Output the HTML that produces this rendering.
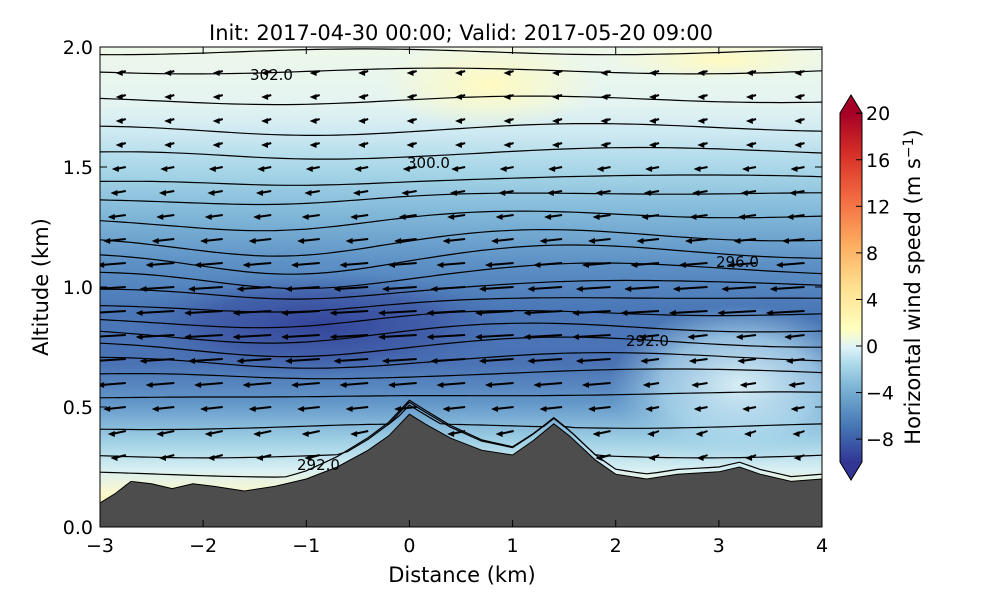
<!DOCTYPE html>
<html><head><meta charset="utf-8"><style>
body{margin:0;background:#fff}
svg text{font-family:"DejaVu Sans","Liberation Sans",sans-serif}
</style></head><body>
<svg id="s" width="1000" height="600" xmlns="http://www.w3.org/2000/svg">
<defs>
<linearGradient id="bg" x1="0" y1="0" x2="0" y2="1">
<stop offset="0" stop-color="#eef8ea"/>
<stop offset="0.12" stop-color="#e4f4f2"/>
<stop offset="0.18" stop-color="#cde9f2"/>
<stop offset="0.26" stop-color="#a6d5e7"/>
<stop offset="0.35" stop-color="#80b7d8"/>
<stop offset="0.45" stop-color="#5d91c5"/>
<stop offset="0.55" stop-color="#4a77b7"/>
<stop offset="0.66" stop-color="#4a72b4"/>
<stop offset="0.74" stop-color="#6296c8"/>
<stop offset="0.82" stop-color="#9fd0e5"/>
<stop offset="0.88" stop-color="#d8eff3"/>
<stop offset="0.93" stop-color="#fbf8cc"/>
<stop offset="1" stop-color="#fee9a0"/>
</linearGradient>
<radialGradient id="blob" cx="0.5" cy="0.5" r="0.5">
<stop offset="0" stop-color="#34449a" stop-opacity="1"/>
<stop offset="0.6" stop-color="#3e57a4" stop-opacity="0.7"/>
<stop offset="1" stop-color="#4a72b4" stop-opacity="0"/>
</radialGradient>
<radialGradient id="light" cx="0.5" cy="0.5" r="0.5">
<stop offset="0" stop-color="#d8eef5" stop-opacity="1"/>
<stop offset="0.6" stop-color="#b5def0" stop-opacity="0.7"/>
<stop offset="1" stop-color="#9dcfe4" stop-opacity="0"/>
</radialGradient>
<radialGradient id="yel" cx="0.5" cy="0.5" r="0.5">
<stop offset="0" stop-color="#fffac0" stop-opacity="1"/>
<stop offset="1" stop-color="#fffac0" stop-opacity="0"/>
</radialGradient>
<linearGradient id="cb" x1="0" y1="1" x2="0" y2="0">
<stop offset="0" stop-color="#313695"/>
<stop offset="0.1" stop-color="#4575b4"/>
<stop offset="0.2" stop-color="#74add1"/>
<stop offset="0.28" stop-color="#abd9e9"/>
<stop offset="0.33" stop-color="#e0f3f8"/>
<stop offset="0.38" stop-color="#ffffbf"/>
<stop offset="0.5" stop-color="#fee090"/>
<stop offset="0.62" stop-color="#fdae61"/>
<stop offset="0.75" stop-color="#f46d43"/>
<stop offset="0.88" stop-color="#d73027"/>
<stop offset="1" stop-color="#a50026"/>
</linearGradient>
<clipPath id="pc"><rect x="100" y="47" width="722" height="480"/></clipPath>
</defs>
<g clip-path="url(#pc)" id="plot">
<rect x="100" y="47" width="722" height="480" fill="url(#bg)"/>
<ellipse cx="320" cy="325" rx="200" ry="55" fill="url(#blob)"/>
<ellipse cx="740" cy="385" rx="130" ry="80" fill="url(#light)"/>
<ellipse cx="490" cy="85" rx="110" ry="45" fill="url(#yel)"/>
<ellipse cx="720" cy="60" rx="110" ry="20" fill="url(#yel)"/>
</g>
<text x="461" y="40" font-size="21" text-anchor="middle">Init: 2017-04-30 00:00; Valid: 2017-05-20 09:00</text>
<text x="462" y="582" font-size="21" text-anchor="middle">Distance (km)</text>
<text transform="translate(48,287) rotate(-90)" font-size="21" text-anchor="middle">Altitude (km)</text>
<rect x="840" y="113" width="22" height="349" fill="url(#cb)"/>
<polygon points="840,113 851,95 862,113" fill="#a50026"/>
<polygon points="840,462 851,480 862,462" fill="#313695"/>
<polygon points="840,113 851,95 862,113 862,462 851,480 840,462" fill="none" stroke="#000" stroke-width="1"/>
<text transform="translate(920,287) rotate(-90)" font-size="21" text-anchor="middle">Horizontal wind speed (m s<tspan dy="-7" font-size="14">−1</tspan><tspan dy="7">)</tspan></text>
</svg>
<script>
const s=document.getElementById('s'),P=document.getElementById('plot'),NS='http://www.w3.org/2000/svg';
function el(p,t,a,txt){const e=document.createElementNS(NS,t);for(const k in a)e.setAttribute(k,a[k]);if(txt!==undefined)e.textContent=txt;p.appendChild(e);return e;}
const X=k=>100+(k+3)*103.143,Y=a=>527-a*240;
const tp=[[-3,.1],[-2.85,.14],[-2.7,.19],[-2.5,.18],[-2.3,.16],[-2.1,.18],[-1.9,.17],[-1.6,.15],[-1.3,.17],[-1,.2],[-.7,.25],[-.4,.32],[-.2,.38],[0,.47],[.15,.43],[.4,.37],[.7,.32],[1,.3],[1.2,.36],[1.4,.43],[1.55,.38],[1.8,.28],[2,.22],[2.3,.2],[2.6,.22],[3,.23],[3.2,.25],[3.4,.22],[3.7,.19],[4,.2]];
function terr(k){for(let i=0;i<tp.length-1;i++)if(k>=tp[i][0]&&k<=tp[i+1][0]){const t=(k-tp[i][0])/(tp[i+1][0]-tp[i][0]);return tp[i][1]+t*(tp[i+1][1]-tp[i][1]);}return .2;}
const levels=[.22,.3,.42,.55,.64,.7,.76,.82,.88,.94,1.0,1.06,1.13,1.2,1.29,1.38,1.45,1.56,1.66,1.78,1.9,1.98];
levels.forEach((h,i)=>{let d='';const dip=Math.max(0,1-Math.abs(h-1.1)*1.3)*0.07;
for(let k=-3;k<=4.001;k+=0.1){let a=h+0.012*Math.sin(k*1.3+i)-dip*Math.exp(-((k+1.2)**2)/1.5)+dip*0.5*Math.exp(-((k-1.5)**2)/2);
if(h<0.6){a=Math.max(a,terr(k)+0.02+(0.6-h)*0.1*Math.exp(-(k**2)))}
d+=(d?'L':'M')+X(k).toFixed(1)+','+Y(a).toFixed(1);}
el(P,'path',{d,fill:'none',stroke:'#000','stroke-width':1.2});});
for(let k=-2.75;k<4;k+=0.47)for(let a=0.2;a<2;a+=0.1){if(a<terr(k)+0.04)continue;
let sp=Math.exp(-((a-0.85)**2)/0.12)*1+0.2;if(a>1.6)sp*=0.4;if(k>2&&a<0.8)sp*=0.4;
const L=4+sp*26,x=X(k),y=Y(a),dy=a<0.5?3:2;
el(P,'line',{x1:x,y1:y,x2:x-L,y2:y+dy,stroke:'#000','stroke-width':2});
el(P,'polygon',{points:`${x-L-4},${y+dy} ${x-L+3},${y+dy-3} ${x-L+3},${y+dy+3}`,fill:'#000'});}
el(P,'polygon',{points:tp.map(p=>X(p[0])+','+Y(p[1])).join(' ')+' 822,527 100,527',fill:'#4d4d4d',stroke:'#000'});
[[250,80,'302.0'],[407,168,'300.0'],[716,267,'296.0'],[626,346,'292.0'],[297,470,'292.0']].forEach(l=>el(s,'text',{x:l[0],y:l[1],'font-size':15},l[2]));
el(s,'rect',{x:100,y:47,width:722,height:480,fill:'none',stroke:'#000','stroke-width':1});
for(let k=-3;k<=4;k++){const x=X(k);el(s,'line',{x1:x,y1:527,x2:x,y2:520,stroke:'#000'});el(s,'line',{x1:x,y1:47,x2:x,y2:54,stroke:'#000'});
el(s,'text',{x:x,y:552,'font-size':19,'text-anchor':'middle'},(k<0?'−':'')+Math.abs(k));}
for(let a=0;a<=2;a+=0.5){const y=Y(a);el(s,'line',{x1:100,y1:y,x2:107,y2:y,stroke:'#000'});el(s,'line',{x1:822,y1:y,x2:815,y2:y,stroke:'#000'});
el(s,'text',{x:93,y:y+7,'font-size':19,'text-anchor':'end'},a.toFixed(1));}
for(let v=-8;v<=20;v+=4){const y=346-v*11.64;el(s,'line',{x1:856,y1:y,x2:862,y2:y,stroke:'#000'});
el(s,'text',{x:866,y:y+7,'font-size':19},(v<0?'−':'')+Math.abs(v));}
</script>
</body></html>
